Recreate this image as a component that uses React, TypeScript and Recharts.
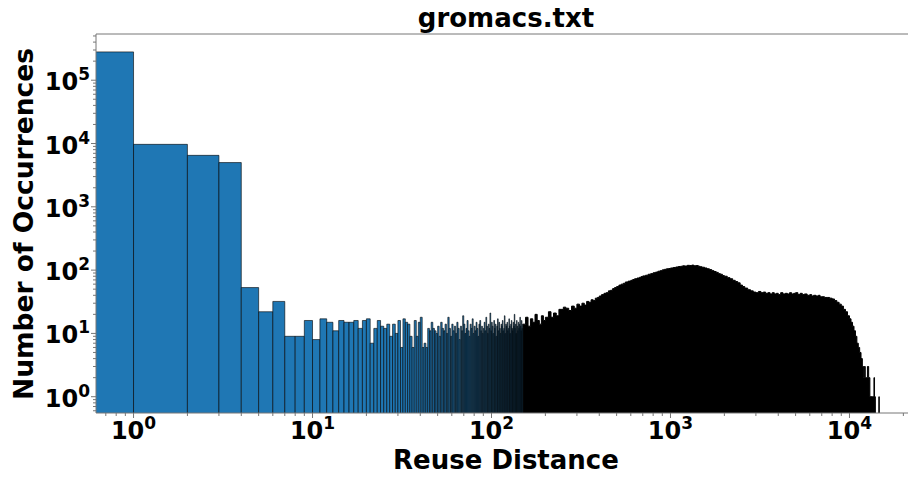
import React from 'react';
import { ComposedChart, Area, XAxis, YAxis, ReferenceArea, ReferenceLine } from 'recharts';

// Histogram bins [i, i+1): counts
const binCounts = [
  280000, 9700, 6500, 5000, 53, 22, 32, 9, 9, 16,
  8, 17, 15, 11, 16, 15, 15, 16, 12, 16,
  17, 7, 12, 16, 13, 12, 14, 9, 14, 10,
  16, 6, 17, 15, 14, 9, 6, 16, 9, 15,
  18, 6, 7, 6,
  12, 11, 15, 12, 11, 10, 13, 9, 15, 12,
  11, 14, 10, 18, 12, 9, 14, 11, 13, 10,
  15, 12, 8, 13, 11, 19, 14, 10, 12, 16,
  11, 9, 14, 12, 17, 10, 13, 11, 15, 12,
  9, 14, 16, 11, 13, 10, 12, 15, 11, 18,
  13, 10, 14, 12, 21, 11, 15, 13, 10, 16,
  12, 14, 9, 13, 17, 11, 15, 12, 10, 14,
  13, 16, 11, 12, 19, 10, 14, 13, 15, 11,
  12, 17, 13, 10, 14, 16, 12, 11, 15, 13,
  20, 12, 14, 10, 16, 13, 11, 15, 12, 14,
  18, 13, 11, 16, 12, 14,
];

// Dense region (bins merge to black): envelope
const envX = [
  150, 155, 160, 165, 170, 175, 180, 185, 190, 195,
  200, 208, 215, 222, 230, 238, 245, 252, 260, 270,
  280, 290, 300, 310, 320, 330, 340, 350, 360, 370,
  380, 390, 400, 412, 425, 437, 450, 462, 475, 487,
  500, 515, 530, 545, 560, 580, 600, 615, 630, 650,
  670, 685, 700, 725, 750, 775, 800, 825, 850, 875,
  900, 925, 950, 975, 1000, 1035, 1070, 1105, 1140, 1170,
  1200, 1240, 1280, 1315, 1350, 1390, 1430, 1465, 1500, 1550,
  1600, 1650, 1700, 1750, 1800, 1850, 1900, 1950, 2000, 2075,
  2150, 2225, 2300, 2375, 2450, 2525, 2600, 2700, 2800, 2900,
  3000, 3100, 3200, 3300, 3400, 3500, 3600, 3700, 3800, 3900,
  4000, 4125, 4250, 4375, 4500, 4625, 4750, 4875, 5000, 5150,
  5300, 5450, 5600, 5800, 6000, 6150, 6300, 6500, 6700, 6850,
  7000, 7250, 7500, 7750, 8000, 8250, 8500, 8750, 9000, 9250,
  9500, 9750, 10000, 10200, 10400, 10600, 10800, 11000, 11200, 11400,
  11600, 11800, 12000, 12100, 12250, 12400, 12600, 12800, 13000, 13400,
  13700, 13800, 13950, 14600, 14660,
];
const envY = [
  14, 18, 13, 17, 15, 20, 16, 14, 19, 16,
  18, 22, 18, 21, 19, 24, 24, 26, 25, 23,
  27, 25, 29, 27, 30, 28, 32, 31, 34, 33,
  36, 37, 39, 41, 43, 44, 47, 48, 51, 53,
  55, 58, 60, 62, 65, 67, 69, 71, 73, 75,
  77, 79, 81, 83, 86, 88, 91, 93, 96, 98,
  101, 103, 105, 106, 108, 110, 112, 114, 115, 117,
  116, 119, 118, 120, 117, 118, 115, 113, 111, 108,
  105, 102, 98, 95, 92, 88, 86, 82, 80, 76,
  73, 69, 66, 63, 58, 55, 52, 49, 47, 45,
  44, 46, 44, 45, 43, 44, 42, 44, 42, 43,
  41, 44, 42, 43, 42, 44, 42, 43, 44, 41,
  43, 41, 42, 40, 41, 39, 40, 39, 40, 38,
  38, 37, 37, 36, 35, 33, 31, 29, 27, 24,
  22, 19, 17, 15, 13, 11, 9, 7, 6, 5,
  4, 3, 2, 3, 2, 2, 3, 2, 1, 1,
  2, 1, 0.3, 1, 0.3,
];

const majorX = [1, 10, 100, 1000, 10000];
const minorX = [
  0.7, 0.8, 0.9, 2, 3, 4, 5, 6, 7, 8, 9,
  20, 30, 40, 50, 60, 70, 80, 90,
  200, 300, 400, 500, 600, 700, 800, 900,
  2000, 3000, 4000, 5000, 6000, 7000, 8000, 9000, 20000,
];
const majorY = [1, 10, 100, 1000, 10000, 100000];
const minorY = [
  0.6, 0.7, 0.8, 0.9, 2, 3, 4, 5, 6, 7, 8, 9,
  20, 30, 40, 50, 60, 70, 80, 90,
  200, 300, 400, 500, 600, 700, 800, 900,
  2000, 3000, 4000, 5000, 6000, 7000, 8000, 9000,
  20000, 30000, 40000, 50000, 60000, 70000, 80000, 90000,
  200000, 300000, 400000, 500000,
];

const X_DOMAIN: [number, number] = [0.617, 21230];
const Y_DOMAIN: [number, number] = [0.553, 537000];

const title = 'gromacs.txt';
const xLabel = 'Reuse Distance';
const yLabel = 'Number of Occurrences';

const envelope = envX.map((x, i) => ({ x, y: envY[i] }));
const xTicks = [...majorX, ...minorX].sort((a, b) => a - b);
const yTicks = [...majorY, ...minorY].sort((a, b) => a - b);

const FONT = "'DejaVu Sans', Verdana, sans-serif";
const AXIS = '#777';
const BLUE = '#1f77b4';

const XTick = (props: any) => {
  const { x, y, payload } = props;
  const v = payload.value;
  const isMajor = majorX.includes(v);
  return (
    <g>
      <line x1={x} x2={x} y1={y} y2={y + (isMajor ? 5 : 3)} stroke={AXIS} strokeWidth={1} />
      {isMajor && (
        <text x={x} y={y + 26} textAnchor="middle" fontFamily={FONT} fontWeight="bold" fontSize={24} fill="#000">
          10<tspan dy={-10} fontSize={17}>{Math.round(Math.log10(v))}</tspan>
        </text>
      )}
    </g>
  );
};

const YTick = (props: any) => {
  const { x, y, payload } = props;
  const v = payload.value;
  const isMajor = majorY.includes(v);
  return (
    <g>
      <line x1={x} x2={x - (isMajor ? 5 : 3)} y1={y} y2={y} stroke={AXIS} strokeWidth={1} />
      {isMajor && (
        <text x={x - 6} y={y + 10} textAnchor="end" fontFamily={FONT} fontWeight="bold" fontSize={24} fill="#000">
          10<tspan dy={-10} fontSize={17}>{Math.round(Math.log10(v))}</tspan>
        </text>
      )}
    </g>
  );
};

export default function App() {
  return (
    <div style={{ position: 'absolute', left: 0, top: 0, width: 909, height: 477, background: '#fff' }}>
      <ComposedChart
        width={909}
        height={477}
        data={envelope}
        margin={{ top: 34, right: 1, bottom: 4, left: 10 }}
      >
        <XAxis
          dataKey="x"
          type="number"
          scale="log"
          domain={X_DOMAIN}
          allowDataOverflow
          ticks={xTicks}
          interval={0}
          tick={<XTick />}
          tickLine={false}
          tickSize={0}
          tickMargin={0}
          axisLine={{ stroke: AXIS, strokeWidth: 1 }}
          height={60}
        />
        <YAxis
          type="number"
          scale="log"
          domain={Y_DOMAIN}
          allowDataOverflow
          ticks={yTicks}
          interval={0}
          tick={<YTick />}
          tickLine={false}
          tickSize={0}
          tickMargin={0}
          axisLine={{ stroke: AXIS, strokeWidth: 1 }}
          width={86}
        />
        {binCounts.map((c, i) => (
          <ReferenceArea
            key={i}
            x1={Math.max(i, 0.5)}
            x2={i + 1}
            y1={0.1}
            y2={c}
            ifOverflow="hidden"
            fill={BLUE}
            fillOpacity={1}
            stroke="#000"
            strokeOpacity={0.75}
            strokeWidth={0.8}
          />
        ))}
        <Area
          type="stepAfter"
          dataKey="y"
          fill="#000"
          fillOpacity={1}
          stroke="#000"
          strokeWidth={1}
          isAnimationActive={false}
          dot={false}
          activeDot={false}
        />
        <ReferenceLine y={Y_DOMAIN[1]} stroke={AXIS} strokeWidth={1} ifOverflow="visible" />
      </ComposedChart>
      <svg width={909} height={477} style={{ position: 'absolute', left: 0, top: 0, pointerEvents: 'none' }}>
        <text x={506} y={27} textAnchor="middle" fontFamily={FONT} fontWeight="bold" fontSize={26} fill="#000">
          {title}
        </text>
        <text x={506} y={469} textAnchor="middle" fontFamily={FONT} fontWeight="bold" fontSize={26} fill="#000">
          {xLabel}
        </text>
        <text
          x={33}
          y={224}
          textAnchor="middle"
          fontFamily={FONT}
          fontWeight="bold"
          fontSize={26.5}
          fill="#000"
          transform="rotate(-90, 33, 224)"
        >
          {yLabel}
        </text>
      </svg>
    </div>
  );
}
